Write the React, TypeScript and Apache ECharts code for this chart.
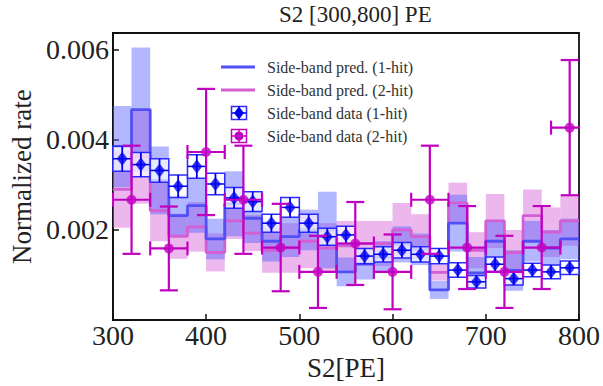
import { useEffect, useRef } from "react";
import * as echarts from "echarts";

// ---------- data ----------
const xTicks = [300, 400, 500, 600, 700, 800];
const yTicks = [0.002, 0.004, 0.006];

// prediction histograms (20 PE bins)
const predBinCenters = [310, 330, 350, 370, 390, 410, 430, 450, 470, 490, 510, 530, 550, 570, 590, 610, 630, 650, 670, 690, 710, 730, 750, 770, 790];
const predBinHalfWidth = 10;
const pred1Hit = [0.00385, 0.00467, 0.0031, 0.00232, 0.00254, 0.0018, 0.00258, 0.00226, 0.00175, 0.00185, 0.002, 0.002, 0.00107, 0.00125, 0.0014, 0.00168, 0.00157, 0.00067, 0.00215, 0.00105, 0.00175, 0.0011, 0.00175, 0.0016, 0.0018];
const pred1HitErr = [0.0009, 0.00138, 0.00075, 0.00045, 0.0006, 0.00045, 0.00072, 0.00055, 0.00045, 0.00045, 0.00045, 0.00085, 0.00032, 0.00035, 0.00035, 0.0004, 0.00035, 0.0002, 0.00063, 0.00035, 0.00043, 0.00045, 0.00045, 0.0004, 0.00045];
const pred2Hit = [0.0029, 0.00363, 0.00243, 0.00186, 0.00207, 0.0015, 0.0022, 0.00193, 0.00155, 0.0016, 0.00175, 0.0016, 0.00165, 0.0017, 0.0017, 0.002, 0.00185, 0.00106, 0.0026, 0.00155, 0.0022, 0.0015, 0.00232, 0.00195, 0.0022];
const pred2HitErr = [0.00085, 0.00105, 0.00068, 0.0005, 0.00055, 0.00042, 0.0004, 0.0004, 0.0005, 0.00055, 0.0006, 0.00055, 0.00055, 0.0005, 0.0005, 0.0006, 0.0005, 0.00018, 0.00045, 0.0004, 0.0006, 0.0005, 0.00058, 0.00055, 0.00055];

// side-band data, 1-hit (20 PE bins)
const data1HitX = [310, 330, 350, 370, 390, 410, 430, 450, 470, 490, 510, 530, 550, 570, 590, 610, 630, 650, 670, 690, 710, 730, 750, 770, 790];
const data1HitXErr = 10;
const data1Hit = [0.00358, 0.00345, 0.00332, 0.00297, 0.00341, 0.00302, 0.00271, 0.00263, 0.00215, 0.0025, 0.00215, 0.00185, 0.00189, 0.00142, 0.00146, 0.00155, 0.00146, 0.00142, 0.00111, 0.00085, 0.00124, 0.00092, 0.00111, 0.00107, 0.00116];
const data1HitErr = [0.00028, 0.00027, 0.00026, 0.00025, 0.00026, 0.00024, 0.00023, 0.00022, 0.0002, 0.00022, 0.0002, 0.00019, 0.00019, 0.00017, 0.00017, 0.00017, 0.00017, 0.00017, 0.00016, 0.00014, 0.00016, 0.00014, 0.00015, 0.00015, 0.00015];

// side-band data, 2-hit (40 PE bins)
const data2HitX = [320, 360, 400, 440, 480, 520, 560, 600, 640, 680, 720, 760, 790];
const data2HitXErr = 20;
const data2Hit = [0.00267, 0.00159, 0.00373, 0.00267, 0.00161, 0.00107, 0.0017, 0.00107, 0.00267, 0.00161, 0.00107, 0.00161, 0.00427];
const data2HitErr = [0.0012, 0.00093, 0.0014, 0.0012, 0.00097, 0.0008, 0.00092, 0.00083, 0.0012, 0.00092, 0.0008, 0.00092, 0.0015];

const legendNames = [
  "Side-band pred. (1-hit)",
  "Side-band pred. (2-hit)",
  "Side-band data (1-hit)",
  "Side-band data (2-hit)",
];

// ---------- styles ----------
const FONT = "'Liberation Serif', 'DejaVu Serif', serif";
const BLUE_LINE = "#5050f5";
const BLUE_BAND = "rgba(85,95,255,0.45)";
const PINK_LINE = "#d45ed4";
const PINK_BAND = "rgba(212,95,212,0.45)";
const BLUE_DATA = "#0000f0";
const BLUE_BOX = "#2b2bff";
const PINK_DATA = "#c000c0";

function bandSeries(name: string, vals: number[], errs: number[], color: string, z: number) {
  return {
    type: "custom",
    name,
    silent: true,
    z,
    clip: true,
    data: predBinCenters.map((c, i) => [c - predBinHalfWidth, c + predBinHalfWidth, vals[i] - errs[i], vals[i] + errs[i]]),
    encode: { x: [0, 1], y: [2, 3] },
    renderItem: (_p: any, api: any) => {
      const a = api.coord([api.value(0), api.value(3)]);
      const b = api.coord([api.value(1), api.value(2)]);
      return {
        type: "rect",
        shape: { x: a[0], y: a[1], width: b[0] - a[0], height: b[1] - a[1] },
        style: { fill: color },
      };
    },
  };
}

function stepSeries(name: string, vals: number[], color: string, z: number) {
  const last = predBinCenters.length - 1;
  const data = predBinCenters.map((c, i) => [c - predBinHalfWidth, vals[i]]);
  data.push([predBinCenters[last] + predBinHalfWidth, vals[last]]);
  return {
    type: "line",
    name,
    step: "end",
    z,
    symbol: "none",
    silent: true,
    data,
    lineStyle: { color, width: 2.8 },
  };
}

function legendGraphic() {
  const rows = [67, 90, 113, 136];
  const children: any[] = [];
  [BLUE_LINE, PINK_LINE].forEach((col, i) => {
    children.push({
      type: "line",
      shape: { x1: 221, y1: rows[i], x2: 255, y2: rows[i] },
      style: { stroke: col, lineWidth: 3 },
    });
  });
  [BLUE_DATA, PINK_DATA].forEach((col, k) => {
    const y = rows[2 + k];
    const cx = 239;
    children.push({
      type: "rect",
      shape: { x: cx - 7.5, y: y - 6.5, width: 15, height: 13 },
      style: { fill: "#fff", stroke: k === 0 ? BLUE_BOX : col, lineWidth: 1.5 },
    });
    children.push({ type: "line", shape: { x1: cx - 7.5, y1: y, x2: cx + 7.5, y2: y }, style: { stroke: col, lineWidth: 1.5 } });
    children.push({ type: "line", shape: { x1: cx, y1: y - 6.5, x2: cx, y2: y + 6.5 }, style: { stroke: col, lineWidth: 1.5 } });
    if (k === 0) {
      children.push({
        type: "polygon",
        shape: { points: [[cx, y - 6.5], [cx + 5, y], [cx, y + 6.5], [cx - 5, y]] },
        style: { fill: col },
      });
    } else {
      children.push({ type: "circle", shape: { cx, cy: y, r: 4.5 }, style: { fill: col } });
    }
  });
  legendNames.forEach((n, i) => {
    children.push({
      type: "text",
      x: 267,
      y: rows[i],
      style: { text: n, font: `16px ${FONT}`, fill: "#333", verticalAlign: "middle", align: "left" },
    });
  });
  return { type: "group", children, z: 100 };
}

export default function App() {
  const ref = useRef<HTMLDivElement>(null);
  useEffect(() => {
    const chart = echarts.init(ref.current!, null, { renderer: "svg" });
    const option: any = {
      animation: false,
      backgroundColor: "#fff",
      title: {
        text: "S2 [300,800] PE",
        left: 279,
        top: 3,
        padding: 0,
        textStyle: { fontFamily: FONT, fontSize: 23, fontWeight: "normal", color: "#222" },
      },
      grid: {
        left: 112,
        right: 22,
        top: 33,
        bottom: 58.5,
        show: true,
        borderColor: "#111",
        borderWidth: 1.8,
        backgroundColor: "transparent",
      },
      xAxis: {
        type: "value",
        min: 300,
        max: 800,
        interval: 100,
        name: "S2[PE]",
        nameLocation: "middle",
        nameGap: 23,
        nameTextStyle: { fontFamily: FONT, fontSize: 27, color: "#222" },
        axisLine: { show: true, lineStyle: { color: "#111", width: 1.8 } },
        axisTick: { show: true, inside: true, length: 6, lineStyle: { color: "#111", width: 1.5 } },
        axisLabel: {
          fontFamily: FONT,
          fontSize: 28,
          color: "#222",
          margin: 1,
          formatter: (v: number) => (xTicks.includes(Math.round(v)) ? String(Math.round(v)) : ""),
        },
        splitLine: { show: false },
      },
      yAxis: {
        type: "value",
        min: 0,
        max: 0.00637,
        interval: 0.002,
        name: "Normalized rate",
        nameLocation: "middle",
        nameGap: 68,
        nameTextStyle: { fontFamily: FONT, fontSize: 27, color: "#222" },
        axisLine: { show: true, lineStyle: { color: "#111", width: 1.8 } },
        axisTick: { show: true, inside: true, length: 6, lineStyle: { color: "#111", width: 1.5 } },
        axisLabel: {
          fontFamily: FONT,
          fontSize: 28,
          color: "#222",
          margin: 4,
          showMaxLabel: false,
          formatter: (v: number) => {
            const t = yTicks.find((y) => Math.abs(y - v) < 1e-7);
            return t !== undefined ? t.toFixed(3) : "";
          },
        },
        splitLine: { show: false },
      },
      graphic: [legendGraphic()],
      series: [
        bandSeries("2-hit band", pred2Hit, pred2HitErr, PINK_BAND, 1),
        bandSeries("1-hit band", pred1Hit, pred1HitErr, BLUE_BAND, 2),
        stepSeries(legendNames[1], pred2Hit, PINK_LINE, 3),
        stepSeries(legendNames[0], pred1Hit, BLUE_LINE, 4),
        {
          type: "custom",
          name: "1-hit boxes",
          silent: true,
          z: 5,
          clip: true,
          data: data1HitX.map((x, i) => [x, data1Hit[i], data1HitErr[i]]),
          encode: { x: 0, y: 1 },
          renderItem: (_p: any, api: any) => {
            const x = api.value(0);
            const y = api.value(1);
            const e = api.value(2);
            const tl = api.coord([x - data1HitXErr, y + e]);
            const br = api.coord([x + data1HitXErr, y - e]);
            const c = api.coord([x, y]);
            return {
              type: "group",
              children: [
                {
                  type: "rect",
                  shape: { x: tl[0], y: tl[1], width: br[0] - tl[0], height: br[1] - tl[1] },
                  style: { fill: "rgba(255,255,255,0.7)", stroke: BLUE_BOX, lineWidth: 1.5 },
                },
                { type: "line", shape: { x1: tl[0], y1: c[1], x2: br[0], y2: c[1] }, style: { stroke: BLUE_DATA, lineWidth: 1.5 } },
                { type: "line", shape: { x1: c[0], y1: tl[1], x2: c[0], y2: br[1] }, style: { stroke: BLUE_DATA, lineWidth: 1.8 } },
              ],
            };
          },
        },
        {
          type: "scatter",
          name: legendNames[2],
          z: 6,
          symbol: "diamond",
          symbolSize: [11, 14],
          itemStyle: { color: BLUE_DATA },
          data: data1HitX.map((x, i) => [x, data1Hit[i]]),
        },
        {
          type: "custom",
          name: "2-hit errors",
          silent: true,
          z: 7,
          clip: true,
          data: data2HitX.map((x, i) => [x, data2Hit[i], data2HitErr[i]]),
          encode: { x: 0, y: 1 },
          renderItem: (_p: any, api: any) => {
            const x = api.value(0);
            const y = api.value(1);
            const e = api.value(2);
            const l = api.coord([x - data2HitXErr, y]);
            const r = api.coord([x + data2HitXErr, y]);
            const t = api.coord([x, y + e]);
            const b = api.coord([x, y - e]);
            const st = { stroke: PINK_DATA, lineWidth: 2.2 };
            return {
              type: "group",
              children: [
                { type: "line", shape: { x1: l[0], y1: l[1], x2: r[0], y2: r[1] }, style: st },
                { type: "line", shape: { x1: t[0], y1: t[1], x2: b[0], y2: b[1] }, style: st },
                { type: "line", shape: { x1: l[0], y1: l[1] - 7, x2: l[0], y2: l[1] + 7 }, style: st },
                { type: "line", shape: { x1: r[0], y1: r[1] - 7, x2: r[0], y2: r[1] + 7 }, style: st },
                { type: "line", shape: { x1: t[0] - 9, y1: t[1], x2: t[0] + 9, y2: t[1] }, style: st },
                { type: "line", shape: { x1: b[0] - 9, y1: b[1], x2: b[0] + 9, y2: b[1] }, style: st },
              ],
            };
          },
        },
        {
          type: "scatter",
          name: legendNames[3],
          z: 8,
          symbol: "circle",
          symbolSize: 10,
          itemStyle: { color: PINK_DATA },
          data: data2HitX.map((x, i) => [x, data2Hit[i]]),
        },
      ],
    };
    chart.setOption(option);
    return () => chart.dispose();
  }, []);
  return <div ref={ref} style={{ position: "absolute", left: 0, top: 0, width: 603, height: 386 }} />;
}
